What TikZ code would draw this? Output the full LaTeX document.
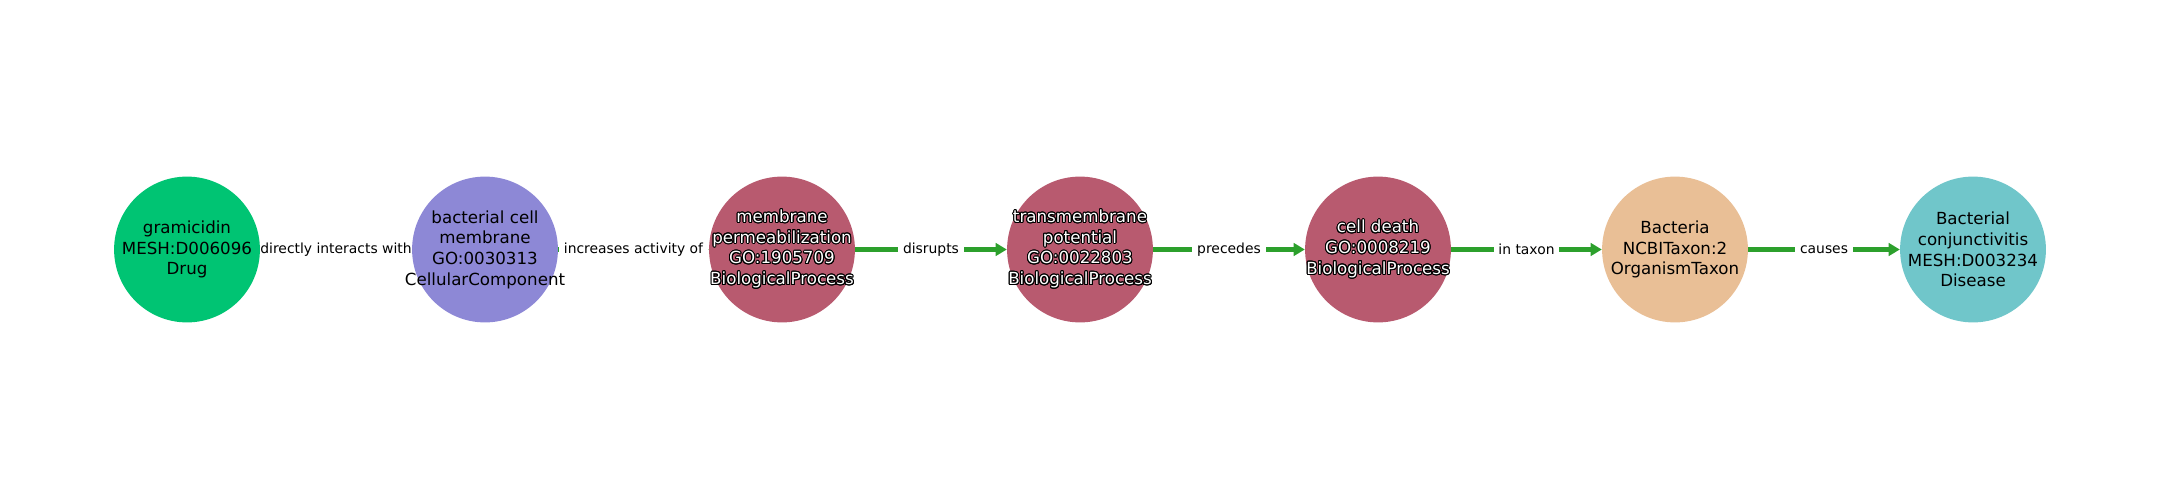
\documentclass[tikz,border=0pt]{standalone}
\usepackage{fontspec}
\setmainfont{DejaVu Sans}
\usepackage[copies]{contour}
\contourlength{0.75pt}
\usetikzlibrary{arrows.meta}
\pgfdeclarelayer{edges}
\pgfsetlayers{edges,main}
\definecolor{drugc}{RGB}{0,196,115}
\definecolor{cellc}{RGB}{141,136,214}
\definecolor{procc}{RGB}{184,90,111}
\definecolor{taxc}{RGB}{233,191,150}
\definecolor{disc}{RGB}{112,198,202}
\definecolor{relc}{RGB}{44,160,44}
\newcommand{\wtxt}[1]{\textcolor{white}{\contour{black}{#1}}}
\begin{document}
\begin{tikzpicture}[
		x=0.72pt,y=0.72pt,
		ent/.style={circle,draw=none,minimum size=105pt,inner sep=0pt},
		etxt/.style={align=center,font=\fontsize{12}{14.9}\selectfont,inner sep=0pt},
		rel/.style={draw=relc,line width=2.9pt,-{Triangle[length=8pt,width=9pt]}},
		lbl/.style={fill=white,inner xsep=3.5pt,inner ysep=2pt,font=\fontsize{10}{12}\selectfont}
		]
		\useasboundingbox (0,0) rectangle (2160,500);
		\node[ent,fill=drugc] (gram) at (187,250.5) {};
		\node[ent,fill=cellc] (bcm) at (485,250.5) {};
		\node[ent,fill=procc] (perm) at (782,250.5) {};
		\node[ent,fill=procc] (tmp) at (1080,250.5) {};
		\node[ent,fill=procc] (death) at (1378,250.5) {};
		\node[ent,fill=taxc] (bact) at (1675,250.5) {};
		\node[ent,fill=disc] (conj) at (1973,250.5) {};
		\node[etxt] (gramt) at (gram) {gramicidin\\MESH:D006096\\Drug};
		\node[etxt] (bcmt) at (bcm) {bacterial cell\\membrane\\GO:0030313\\CellularComponent};
		\node[etxt] (permt) at (perm) {\wtxt{membrane}\\\wtxt{permeabilization}\\\wtxt{GO:1905709}\\\wtxt{BiologicalProcess}};
		\node[etxt] (tmpt) at (tmp) {\wtxt{transmembrane}\\\wtxt{potential}\\\wtxt{GO:0022803}\\\wtxt{BiologicalProcess}};
		\node[etxt] (deatht) at (death) {\wtxt{cell death}\\\wtxt{GO:0008219}\\\wtxt{BiologicalProcess}};
		\node[etxt] (bactt) at (bact) {Bacteria\\NCBITaxon:2\\OrganismTaxon};
		\node[etxt] (conjt) at (conj) {Bacterial\\conjunctivitis\\MESH:D003234\\Disease};
		\begin{pgfonlayer}{edges}
		\draw[rel] (gram) -- (bcm) node[lbl,midway] (l1) {directly interacts with};
		\draw[rel] (bcm) -- (perm) node[lbl,midway] (l2) {increases activity of};
		\draw[rel] (perm) -- (tmp) node[lbl,midway] (l3) {disrupts};
		\draw[rel] (tmp) -- (death) node[lbl,midway] (l4) {precedes};
		\draw[rel] (death) -- (bact) node[lbl,midway] (l5) {in taxon};
		\draw[rel] (bact) -- (conj) node[lbl,midway] (l6) {causes};
		\end{pgfonlayer}
		\end{tikzpicture}
\end{document}
